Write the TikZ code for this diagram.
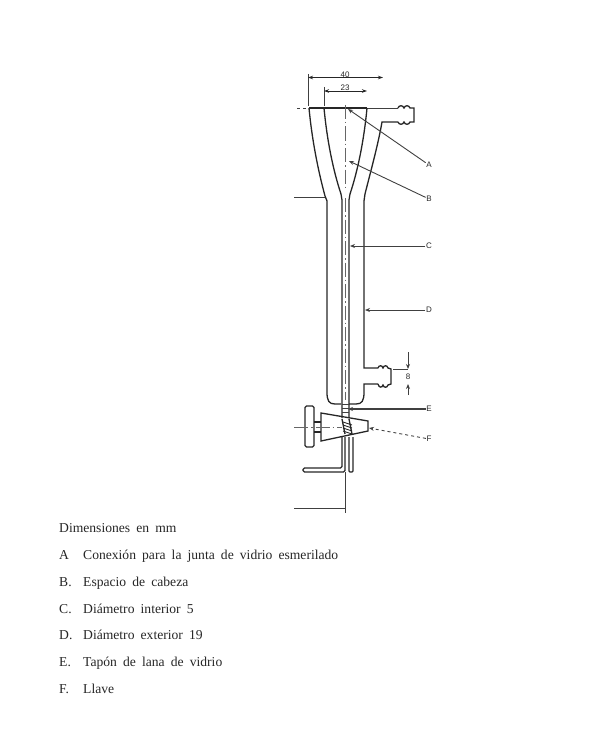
\documentclass[tikz,border=0pt]{standalone}
\usepackage{fontspec}
\setmainfont{Liberation Serif}
\newfontfamily\labelfont{Liberation Sans}
\usetikzlibrary{positioning,calc,arrows.meta}
\newcommand{\legendfont}{\fontsize{13.6}{15}\selectfont\spaceskip 0.45em plus 0.1em\relax}
\tikzset{
    glass/.style={line width=1.3pt, black!85},
    thin line/.style={line width=0.9pt, black!75},
    axis line/.style={line width=0.7pt, black!60, dash pattern=on 14pt off 3pt on 1.5pt off 3pt},
    leader/.style={line width=0.9pt, black!75, -{Stealth[length=5pt,width=4pt]}},
    dim/.style={line width=0.9pt, black!85, {Stealth[length=5pt,width=3.5pt]}-{Stealth[length=5pt,width=3.5pt]}},
    tag/.style={font=\labelfont\fontsize{8}{9}\selectfont, inner sep=0.5pt, text=black!85},
    legend/.style={anchor=base west, inner sep=0pt, font=\legendfont, text=black!85}
}
\begin{document}
\begin{tikzpicture}[x=1pt,y=-1pt]
    \useasboundingbox (0,0) rectangle (600,733);

    % Funnel
    \draw [glass, line width=1.6pt] (309,108) -- (367,108);
    \draw [thin line] (367,108) -- (398,108);
    \draw [thin line, dashed] (297,108) -- (307,108);
    \draw [glass] (309,108) .. controls (312,140) and (318,170) .. (325,196) -- (327,201) -- (327,392)
        .. controls (327,401) and (329,404) .. (335,404) -- (341,404);
    \draw [glass] (324,108) .. controls (327,140) and (333,170) .. (341,194) -- (342,200) -- (342,418);
    \draw [glass] (367,108) .. controls (364,140) and (358,170) .. (350,194) -- (349,200) -- (349,418);
    \draw [glass] (398,122) -- (382,122) .. controls (378,145) and (371,170) .. (365,194) -- (364,201) -- (364,368) -- (378,368);
    \draw [glass] (378,384) -- (364,384) -- (364,392) .. controls (364,401) and (362,404) .. (356,404) -- (349,404);

    % Upper side arm
    \draw [glass] (398,108) .. controls (399,105) and (403,105) .. (404,108)
        .. controls (405,105) and (409,105) .. (410,108) -- (414,108) -- (414,122) -- (410,122)
        .. controls (409,125) and (405,125) .. (404,122) .. controls (403,125) and (399,125) .. (398,122);

    % Lower side arm
    \draw [glass] (378,368) .. controls (379,365) and (382,365) .. (383,368)
        .. controls (384,365) and (387,365) .. (388,368) -- (391,369) -- (391,384) -- (388,385)
        .. controls (387,388) and (384,388) .. (383,385) .. controls (382,388) and (379,388) .. (378,384);

    % Wool plug
    \foreach \yy in {404,408,412}
        \draw [thin line] (342,\yy) -- (349,\yy);

    % Stopcock
    \draw [glass] (321,413) -- (368,421) -- (368,431) -- (321,441) -- cycle;
    \draw [glass] (314,422) -- (321,422);
    \draw [glass] (314,432) -- (321,432);
    \draw [glass, rounded corners=1.5pt] (305,406) rectangle (314,447);
    \draw [axis line] (294,427) -- (342,427);
    \foreach \yy in {422,425,428,431}
        \draw [glass, line width=0.9pt] (343,\yy) -- (352,\yy+3);
    \draw [glass] (342,419) -- (345,434);
    \draw [glass] (349,419) -- (352,434);

    % Outlet
    \draw [glass, rounded corners=1.5pt] (342,437) -- (342,468) -- (303,468) -- (303,472) -- (345,472) -- (345,437);
    \draw [glass, rounded corners=1pt] (349,437) -- (349,472) -- (353,472) -- (353,437);

    % Centre line
    \draw [axis line] (345,105) -- (345,190);
    \draw [axis line] (345,198) -- (345,400);
    \draw [thin line] (345,472) -- (345,513);
    \draw [thin line] (294,508) -- (345,508);
    \draw [thin line] (294,197) -- (325,197);

    % Dimensions
    \draw [thin line] (308,74) -- (308,106);
    \draw [thin line] (324,87) -- (324,106);
    \coordinate (w40a) at (308,77.5);
    \coordinate (w40b) at (383,77.5);
    \coordinate (w23a) at (324,91);
    \coordinate (w23b) at (367,91);
    \draw [dim] (w40a) -- (w40b);
    \draw [dim] (w23a) -- (w23b);
    \node [tag] (w40) at (345,74.5) {40};
    \node [tag] (w23) at (345,87.5) {23};

    \coordinate (h8a) at (408,352);
    \coordinate (h8b) at (408,369);
    \coordinate (h8c) at (408,395);
    \coordinate (h8d) at (408,384);
    \draw [thin line] (393,369) -- (408,369);
    \draw [leader] (h8a) -- (h8b);
    \draw [leader] (h8c) -- (h8d);
    \node [tag] (h8) at (408,376.5) {8};

    % Labels
    \node [tag] (lblA) at (429,165) {A};
    \node [tag] (lblB) at (429,199) {B};
    \node [tag] (lblC) at (429,246) {C};
    \node [tag] (lblD) at (429,310) {D};
    \node [tag] (lblE) at (429,409) {E};
    \node [tag] (lblF) at (429,439) {F};
    \coordinate (ptA) at (348,109);
    \coordinate (ptB) at (349,161);
    \coordinate (ptC) at (350,246);
    \coordinate (ptD) at (365,310);
    \coordinate (ptE) at (348,409);
    \coordinate (ptF) at (369,428);
    \draw [leader] (lblA) -- (ptA);
    \draw [leader] (lblB) -- (ptB);
    \draw [leader] (lblC) -- (ptC);
    \draw [leader] (lblD) -- (ptD);
    \draw [leader, line width=1.3pt] (lblE) -- (ptE);
    \draw [leader, dashed] (lblF) -- (ptF);

    % Legend
    \node [legend] (title) at (59,532) {Dimensiones en mm};
    \node [legend] (keyA) at (59,559) {A};
    \node [legend] (txtA) at (83,559) {Conexión para la junta de vidrio esmerilado};
    \node [legend] (keyB) at (59,586) {B.};
    \node [legend] (txtB) at (83,586) {Espacio de cabeza};
    \node [legend] (keyC) at (59,613) {C.};
    \node [legend] (txtC) at (83,613) {Diámetro interior 5};
    \node [legend] (keyD) at (59,639) {D.};
    \node [legend] (txtD) at (83,639) {Diámetro exterior 19};
    \node [legend] (keyE) at (59,666) {E.};
    \node [legend] (txtE) at (83,666) {Tapón de lana de vidrio};
    \node [legend] (keyF) at (59,693) {F.};
    \node [legend] (txtF) at (83,693) {Llave};
\end{tikzpicture}
\end{document}
